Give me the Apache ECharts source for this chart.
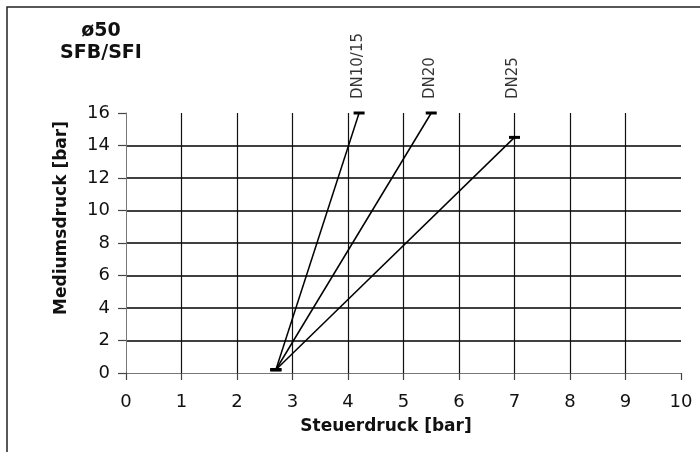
<!DOCTYPE html>
<html>
<head>
<meta charset="utf-8">
<script src="https://cdn.jsdelivr.net/npm/echarts@6.0.0/dist/echarts.min.js"></script>
<style>
    html, body { margin: 0; padding: 0; background: #ffffff; }
    #chart01 { width: 700px; height: 452px; }
</style>
</head>
<body>
<div id="chart01"></div>
<script>
// Nennweiten und Kennlinien (Steuerdruck -> Mediumsdruck)
var lineNames = ['DN10/15', 'DN20', 'DN25'];
var startPoint = [2.7, 0.2];
var endSteuer = [4.2, 5.5, 7.0];
var endMedium = [16, 16, 14.5];

// Achsen
var xMin = 0, xMax = 10, xStep = 1;
var yMin = 0, yMax = 16, yStep = 2;
var titleLines = ['ø50', 'SFB/SFI'];
var xName = 'Steuerdruck [bar]';
var yName = 'Mediumsdruck [bar]';

var fontFam = '"DejaVu Sans", sans-serif';

function chart01(id) {
    var myChart = echarts.init(document.getElementById(id), null, { renderer: 'canvas' });

    var series = lineNames.map(function (name, i) {
        return {
            name: name,
            type: 'line',
            symbol: 'rect',
            symbolSize: [11, 3],
            showAllSymbol: true,
            itemStyle: { color: '#000000' },
            lineStyle: { color: '#000000', width: 1.5 },
            data: [startPoint, [endSteuer[i], endMedium[i]]],
            z: 5
        };
    });

    // Beschriftung der Kennlinien, oberhalb der Achse (max)
    series.push({
        name: 'labels',
        type: 'scatter',
        symbol: 'circle',
        symbolSize: 2,
        itemStyle: { color: 'transparent' },
        silent: true,
        label: {
            show: true,
            position: [0, -13],
            rotate: 90,
            align: 'left',
            verticalAlign: 'middle',
            fontFamily: fontFam,
            fontSize: 15,
            color: '#000000',
            formatter: function (p) { return lineNames[p.dataIndex]; }
        },
        data: endSteuer.map(function (x) { return [x, yMax]; })
    });

    var option = {
        animation: false,
        backgroundColor: '#ffffff',
        title: {
            text: titleLines.join('\n'),
            left: 101,
            top: 20,
            padding: 0,
            textAlign: 'center',
            textStyle: {
                fontFamily: fontFam,
                fontSize: 19,
                fontWeight: 'bold',
                lineHeight: 22,
                color: '#111111'
            }
        },
        graphic: [
            {
                type: 'rect',
                shape: { x: 7, y: 7, width: 800, height: 600 },
                style: { fill: 'none', stroke: '#222222', lineWidth: 1.5 },
                silent: true
            }
        ],
        grid: {
            left: 126,
            right: 19,
            top: 113,
            bottom: 79
        },
        xAxis: {
            type: 'value',
            min: xMin,
            max: xMax,
            interval: xStep,
            name: xName,
            nameLocation: 'middle',
            nameGap: 45,
            nameTextStyle: {
                fontFamily: fontFam,
                fontSize: 17,
                fontWeight: 'bold',
                color: '#111111',
                padding: [0, 35, 0, 0]
            },
            axisLine: { show: true, lineStyle: { color: '#777777', width: 1 } },
            axisTick: { show: true, length: 7, lineStyle: { color: '#444444', width: 1.2 } },
            axisLabel: { fontFamily: fontFam, fontSize: 18, color: '#111111', margin: 20 },
            splitLine: {
                show: true,
                showMinLine: false,
                showMaxLine: false,
                lineStyle: { color: '#111111', width: 1.2 }
            }
        },
        yAxis: {
            type: 'value',
            min: yMin,
            max: yMax,
            interval: yStep,
            name: yName,
            nameLocation: 'middle',
            nameGap: 56,
            nameTextStyle: {
                fontFamily: fontFam,
                fontSize: 17,
                fontWeight: 'bold',
                color: '#111111',
                padding: [0, 0, 0, 50]
            },
            axisLine: { show: true, lineStyle: { color: '#777777', width: 1 } },
            axisTick: { show: true, length: 8, lineStyle: { color: '#444444', width: 1.2 } },
            axisLabel: { fontFamily: fontFam, fontSize: 18, color: '#111111', margin: 16 },
            splitLine: {
                show: true,
                showMinLine: false,
                showMaxLine: false,
                lineStyle: { color: '#000000', width: 1.6 }
            }
        },
        series: series
    };

    myChart.setOption(option);
    return myChart;
}

window.addEventListener('load', function () {
    var chartInit01 = chart01('chart01');
    window.addEventListener('resize', function () {
        chartInit01.resize();
    });
});
</script>
</body>
</html>
